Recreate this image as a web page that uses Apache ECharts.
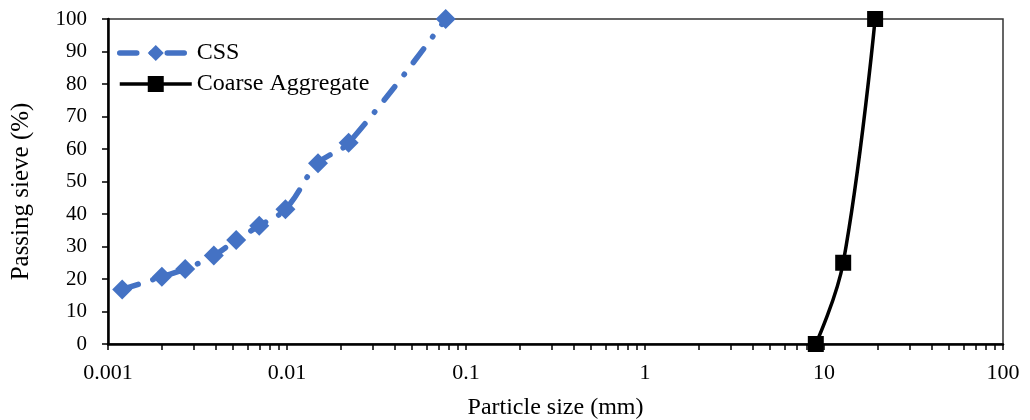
<!DOCTYPE html>
<html>
<head>
<meta charset="utf-8">
<script src="https://cdn.jsdelivr.net/npm/echarts@6/dist/echarts.min.js"></script>
<style>
  html, body { margin: 0; padding: 0; background: #fff; }
  #chart { width: 1030px; height: 420px; }
</style>
</head>
<body>
<div id="chart"></div>
<script>
// Particle size (mm) and passing sieve (%)
const cssSize = [0.0012, 0.002, 0.0027, 0.0039, 0.0052, 0.007, 0.0098, 0.0149, 0.0221, 0.077];
const cssPass = [16.8, 20.7, 23.1, 27.2, 32.0, 36.4, 41.5, 55.6, 61.9, 100];

const coarseSize = [9.0, 12.8, 19.3];
const coarsePass = [0, 25, 100];

const xTickLabels = ["0.001", "0.01", "0.1", "1", "10", "100"];
const yTicks = [0, 10, 20, 30, 40, 50, 60, 70, 80, 90, 100];

const FONT = "Liberation Serif";

// tick marks at 1..9 of every decade
const xTickValues = [];
for (let d = -3; d < 2; d++) {
  for (let m = 1; m < 10; m++) {
    xTickValues.push(+(m * Math.pow(10, d)).toPrecision(3));
  }
}
xTickValues.push(100);

function labelFor(v) {
  const k = Math.round(Math.log10(v)) + 3;
  return xTickLabels[k] !== undefined ? xTickLabels[k] : "";
}

const chart = echarts.init(document.getElementById("chart"));

const option = {
  animation: false,
  textStyle: { fontFamily: FONT, color: "#000" },
  grid: {
    left: 108,
    right: 27,
    top: 19,
    bottom: 76,
    outerBoundsMode: "none",
    containLabel: false,
    show: true,
    borderColor: "#333",
    borderWidth: 1.5,
  },
  legend: {
    left: 117,
    top: 41,
    padding: 0,
    orient: "vertical",
    itemWidth: 72,
    itemHeight: 20,
    itemGap: 7,
    lineStyle: { width: "inherit", type: "inherit", cap: "inherit" },
    textStyle: { fontFamily: FONT, fontSize: 24, color: "#000", lineHeight: 24 },
    data: ["CSS", "Coarse Aggregate"],
  },
  xAxis: {
    type: "log",
    logBase: 10,
    min: 0.001,
    max: 100,
    name: "Particle size (mm)",
    nameLocation: "middle",
    nameGap: 52,
    nameTextStyle: { fontFamily: FONT, fontSize: 24, color: "#000" },
    axisLine: { show: true, onZero: false, lineStyle: { color: "#000", width: 2.5 } },
    axisTick: {
      show: true,
      inside: false,
      length: 6,
      lineStyle: { color: "#000", width: 1.5 },
      customValues: xTickValues,
    },
    minorTick: { show: false },
    splitLine: { show: false },
    axisLabel: {
      fontFamily: FONT,
      fontSize: 22,
      color: "#000",
      margin: 18,
      formatter: labelFor,
    },
  },
  yAxis: {
    type: "value",
    min: 0,
    max: 100,
    interval: 10,
    name: "Passing sieve (%)",
    nameLocation: "middle",
    nameGap: 74,
    nameTextStyle: { fontFamily: FONT, fontSize: 25, color: "#000", padding: [0, 20, 0, 0] },
    axisLine: { show: true, lineStyle: { color: "#000", width: 2.5 } },
    axisTick: { show: true, length: 6, lineStyle: { color: "#000", width: 1.5 } },
    splitLine: { show: false },
    axisLabel: {
      fontFamily: FONT,
      fontSize: 21,
      color: "#000",
      margin: 21,
      formatter: (v) => (yTicks.includes(v) ? String(v) : ""),
    },
  },
  series: [
    {
      name: "CSS",
      type: "line",
      smooth: 0.4,
      symbol: "diamond",
      symbolSize: 20,
      color: "#4472C4",
      itemStyle: { color: "#4472C4" },
      lineStyle: {
        color: "#4472C4",
        width: 5.5,
        type: [17, 15, 0.5, 15],
        cap: "round",
      },
      data: cssSize.map((x, i) => [x, cssPass[i]]),
      z: 3,
    },
    {
      name: "Coarse Aggregate",
      type: "line",
      smooth: 0.4,
      symbol: "rect",
      symbolSize: 16,
      color: "#000",
      itemStyle: { color: "#000" },
      lineStyle: { color: "#000", width: 3.5 },
      data: coarseSize.map((x, i) => [x, coarsePass[i]]),
      z: 3,
    },
  ],
};

chart.setOption(option);
</script>
</body>
</html>
